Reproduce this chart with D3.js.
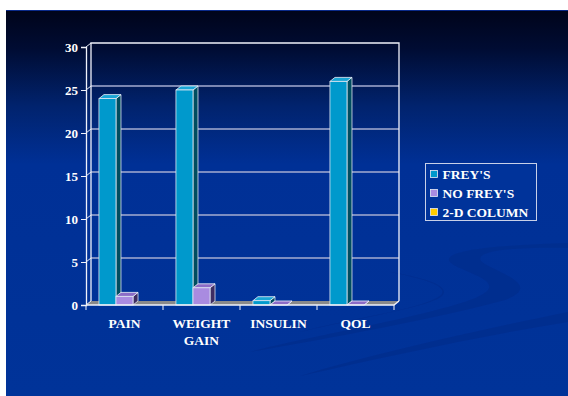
<!DOCTYPE html>
<html>
<head>
<meta charset="utf-8">
<script src="https://cdn.jsdelivr.net/npm/d3@7"></script>
<style>
  html, body { margin: 0; padding: 0; background: #fff; }
  svg { display: block; }
  text { font-family: "Liberation Serif", "Times New Roman", serif; font-weight: bold; fill: #fff; }
</style>
</head>
<body>
<svg id="chart" width="568" height="396"></svg>
<script>
const categories = ['PAIN', 'WEIGHT GAIN', 'INSULIN', 'QOL'];
const seriesNames = ["FREY'S", "NO FREY'S", '2-D COLUMN'];
const freys = [24, 25, 0.5, 26];
const noFreys = [1, 2, 0, 0];
const twoD = [null, null, null, null];
const yTicks = [0, 5, 10, 15, 20, 25, 30];

const seriesValues = [freys, noFreys, twoD];
const fronts = ['#0099cc', '#a98be0', '#ffcc00'];
const sides = ['#004d60', '#3e2d62', '#806600'];
const tops = ['#1aa6d6', '#8c6cc6', '#ffd633'];

const svg = d3.select('#chart');
const defs = svg.append('defs');
const grad = defs.append('linearGradient')
    .attr('id', 'bg')
    .attr('x1', 0).attr('y1', 0).attr('x2', 0).attr('y2', 1);
grad.append('stop').attr('offset', '0%').attr('stop-color', '#00041a');
grad.append('stop').attr('offset', '10%').attr('stop-color', '#000c33');
grad.append('stop').attr('offset', '25%').attr('stop-color', '#01236e');
grad.append('stop').attr('offset', '40%').attr('stop-color', '#003096');
grad.append('stop').attr('offset', '100%').attr('stop-color', '#003399');

// slide background
svg.append('rect')
    .attr('x', 6).attr('y', 10)
    .attr('width', 562).attr('height', 386)
    .attr('fill', 'url(#bg)');
svg.append('line')
    .attr('x1', 6).attr('x2', 568).attr('y1', 10.5).attr('y2', 10.5)
    .attr('stroke', '#0a2a8a').attr('stroke-width', 1);

// faint swooshes
const swoosh = svg.append('g').attr('fill', '#002d8c').attr('opacity', 0.7);
swoosh.append('path')
    .attr('d', 'M568,243 C500,245 440,250 450,262 C458,272 520,282 470,300 C420,318 300,338 250,352 C320,340 440,318 505,300 C545,285 495,272 482,262 C470,250 520,247 568,248 Z');
swoosh.append('path')
    .attr('d', 'M568,312 C480,330 380,352 300,376 C390,356 480,336 568,322 Z');
swoosh.append('path')
    .attr('d', 'M390,272 C440,280 460,292 430,302 C400,312 340,322 300,332 C350,318 420,310 440,296 C452,286 420,278 390,272 Z');

// chart geometry
const left = 86, right = 394, baseY = 305, topY = 47;
const dx = 5, dy = -4;     // wall depth
const bdx = 5, bdy = -4;   // bar depth

const y = d3.scaleLinear().domain([0, 30]).range([baseY, topY]);
const x0 = d3.scaleBand().domain(categories).range([left, right]).paddingInner(0).paddingOuter(0);
const x1 = d3.scaleBand().domain(seriesNames).range([0, x0.bandwidth()]).paddingInner(0).paddingOuter(0.76);

const chart = svg.append('g');

// floor
chart.append('path')
    .attr('d', `M${left},${baseY} L${left + dx},${baseY + dy} L${right + dx},${baseY + dy} L${right},${baseY} Z`)
    .attr('fill', '#8a8a8a');

// back wall gridlines
chart.selectAll('line.grid')
    .data(yTicks.filter(d => d > 0 && d < 30))
    .enter().append('line')
    .attr('class', 'grid')
    .attr('x1', left + dx).attr('x2', right + dx)
    .attr('y1', d => y(d) + dy).attr('y2', d => y(d) + dy)
    .attr('stroke', '#a4acd0').attr('stroke-width', 1.5);

// side wall gridlines
chart.selectAll('line.sgrid')
    .data(yTicks)
    .enter().append('line')
    .attr('class', 'sgrid')
    .attr('x1', left).attr('x2', left + dx)
    .attr('y1', d => y(d)).attr('y2', d => y(d) + dy)
    .attr('stroke', '#e8ecf8').attr('stroke-width', 1);

// back wall outline
chart.append('path')
    .attr('d', `M${left + dx},${baseY + dy} L${left + dx},${topY + dy} L${right + dx},${topY + dy} L${right + dx},${baseY + dy}`)
    .attr('fill', 'none').attr('stroke', '#f0f2fa').attr('stroke-width', 1.3);

// y axis
const yAxis = chart.append('g')
    .attr('transform', `translate(${left},0)`)
    .call(d3.axisLeft(y).tickValues(yTicks).tickSize(5).tickPadding(3));
yAxis.select('.domain').attr('stroke', '#f0f2fa').attr('stroke-width', 1.3);
yAxis.selectAll('.tick line').attr('stroke', '#f0f2fa');
yAxis.selectAll('.tick text')
    .attr('fill', '#fff').attr('font-size', 13)
    .attr('font-family', '"Liberation Serif", serif').attr('font-weight', 'bold');

// bars
const bars = [];
categories.forEach((c, i) => {
  seriesNames.forEach((s, j) => {
    const v = seriesValues[j][i];
    if (v === null) return;
    bars.push({ c, s, j, v });
  });
});

const barG = chart.selectAll('g.bar')
    .data(bars)
    .enter().append('g')
    .attr('class', 'bar');

barG.each(function(d) {
  const g = d3.select(this);
  const xa = x0(d.c) + x1(d.s);
  const w = x1.bandwidth();
  const yt = y(d.v);
  // side
  g.append('path')
      .attr('d', `M${xa + w},${yt} L${xa + w + bdx},${yt + bdy} L${xa + w + bdx},${baseY + bdy} L${xa + w},${baseY} Z`)
      .attr('fill', sides[d.j]).attr('stroke', '#dfe6f2').attr('stroke-width', 0.8);
  // top
  g.append('path')
      .attr('d', `M${xa},${yt} L${xa + bdx},${yt + bdy} L${xa + w + bdx},${yt + bdy} L${xa + w},${yt} Z`)
      .attr('fill', tops[d.j]).attr('stroke', '#eef2fa').attr('stroke-width', 0.8);
  // front
  if (d.v > 0) {
    g.append('rect')
        .attr('x', xa).attr('y', yt)
        .attr('width', w).attr('height', baseY - yt)
        .attr('fill', fronts[d.j]).attr('stroke', '#dfe6f2').attr('stroke-width', 0.8);
  }
});

// x axis
chart.append('path')
    .attr('d', `M${left},${baseY} L${right},${baseY} L${right + dx},${baseY + dy}`)
    .attr('fill', 'none').attr('stroke', '#f0f2fa').attr('stroke-width', 1.3);
const bounds = categories.map(c => x0(c)).concat([right]);
chart.selectAll('line.xtick')
    .data(bounds)
    .enter().append('line')
    .attr('class', 'xtick')
    .attr('x1', d => d).attr('x2', d => d)
    .attr('y1', baseY).attr('y2', baseY + 5)
    .attr('stroke', '#f0f2fa').attr('stroke-width', 1);

const xl = chart.selectAll('text.xlab')
    .data(categories)
    .enter().append('text')
    .attr('class', 'xlab')
    .attr('text-anchor', 'middle')
    .attr('font-size', 13.5)
    .attr('x', d => x0(d) + x0.bandwidth() / 2)
    .attr('y', 328);
xl.each(function(d) {
  const words = d.split(' ');
  const t = d3.select(this);
  words.forEach((wd, k) => {
    t.append('tspan')
        .attr('x', t.attr('x'))
        .attr('dy', k === 0 ? 0 : 17)
        .text(wd);
  });
});

// legend
const legend = svg.append('g').attr('transform', 'translate(425.5,163.5)');
legend.append('rect')
    .attr('width', 111).attr('height', 57)
    .attr('fill', '#00339a')
    .attr('stroke', '#c8d0e8').attr('stroke-width', 1);
const li = legend.selectAll('g.item')
    .data(seriesNames)
    .enter().append('g')
    .attr('class', 'item')
    .attr('transform', (d, i) => `translate(5,${7 + i * 19})`);
li.append('rect')
    .attr('width', 7).attr('height', 7)
    .attr('fill', (d, i) => fronts[i])
    .attr('stroke', '#e8ecf6').attr('stroke-width', 0.8);
li.append('text')
    .attr('x', 12).attr('y', 8.5)
    .attr('font-size', 13.5)
    .text(d => d);
</script>
</body>
</html>
